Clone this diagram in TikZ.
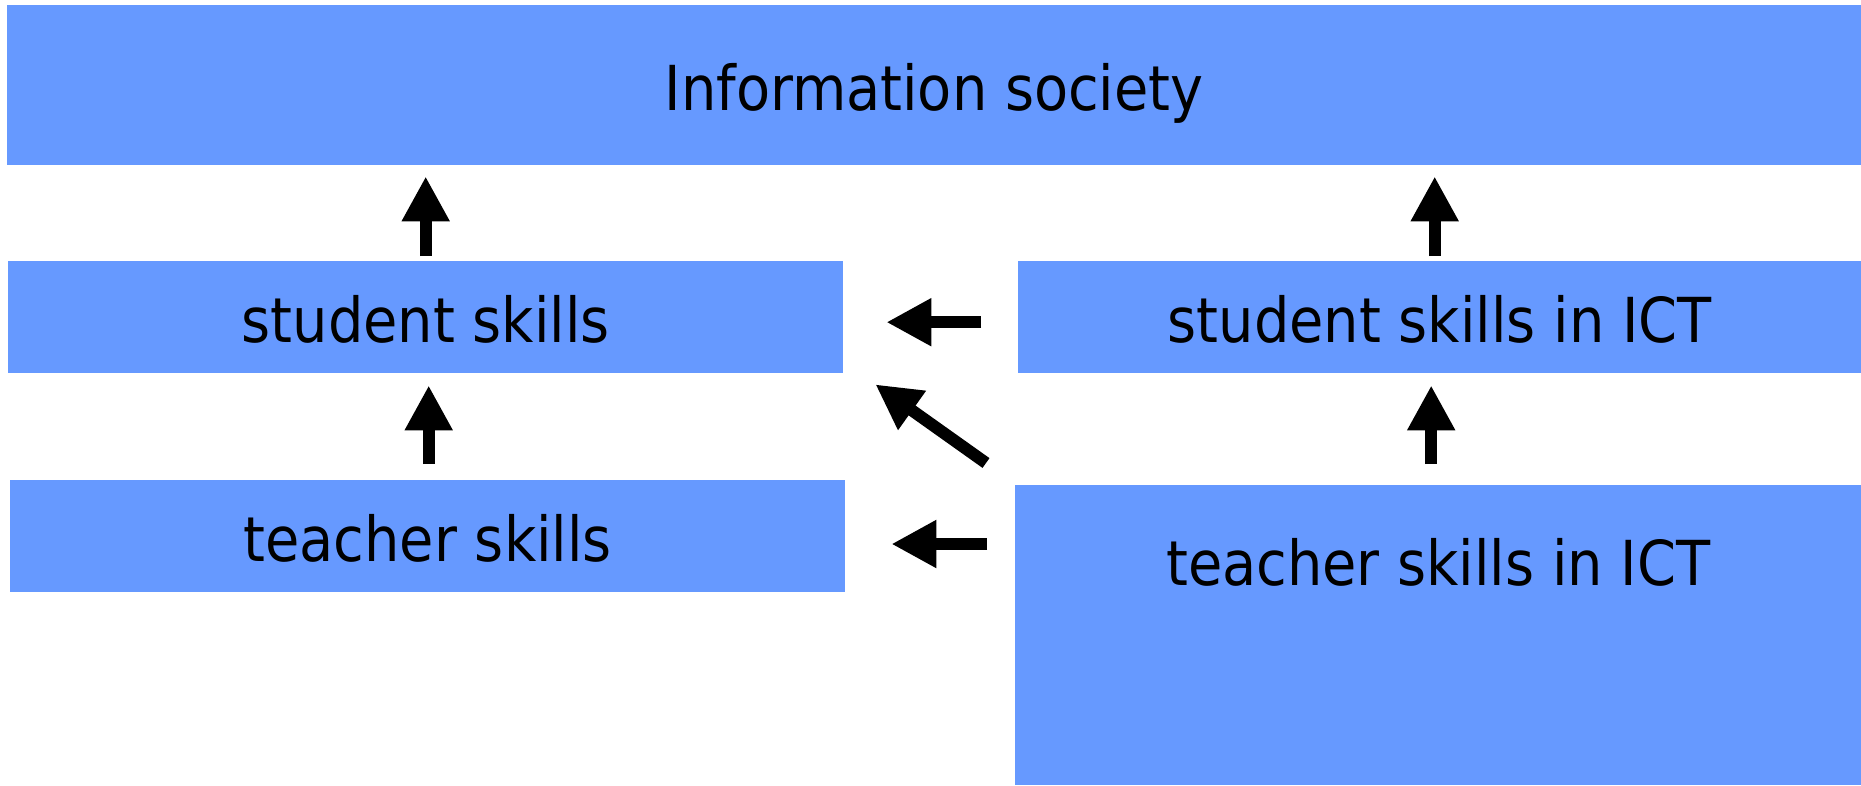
\documentclass[tikz,border=0pt]{standalone}
\usepackage{fontspec}
\setmainfont{DejaVu Sans Condensed}
\usetikzlibrary{arrows.meta}
\definecolor{boxblue}{HTML}{6699FF}
\begin{document}
\begin{tikzpicture}[x=1pt,y=-1pt,
  box/.style={rectangle, fill=boxblue, inner sep=0pt, anchor=north west,
    font=\fontsize{62}{74}\selectfont, text height=50pt, text depth=0pt},
  arr/.style={line width=12pt, -{Triangle[width=45pt,length=45pt]}}]
\useasboundingbox (0,0) rectangle (1861,785);
\node[box, minimum width=1854pt, minimum height=160pt] (info) at (7,5) {Information society};
\node[box, minimum width=835pt, minimum height=112pt] (ss) at (8,261) {student skills};
\node[box, minimum width=843pt, minimum height=112pt] (ssi) at (1018,261) {student skills in ICT};
\node[box, minimum width=835pt, minimum height=112pt] (ts) at (10,480) {teacher skills};
\node[box, minimum width=846pt, minimum height=300pt, text depth=150pt] (tsi) at (1015,485) {teacher skills in ICT};
% vertical arrows
\draw[arr, shorten <=5pt, shorten >=11pt] (ss.north) -- (ss.north |- info.south);
\draw[arr, shorten <=5pt, shorten >=11pt] ([xshift=-5pt]ssi.north) -- ([xshift=-5pt]ssi.north |- info.south);
\draw[arr, shorten <=16pt, shorten >=12pt] ([xshift=1pt]ts.north) -- ([xshift=1pt]ts.north |- ss.south);
\draw[arr, shorten <=21pt, shorten >=12pt] ([xshift=-7pt]tsi.north) -- ([xshift=-7pt]tsi.north |- ssi.south);
% horizontal and diagonal arrows
\coordinate (h1s) at ([xshift=-37pt,yshift=-5pt]ssi.west);
\coordinate (h1e) at ([xshift=43pt,yshift=-5pt]ss.east);
\draw[arr] (h1s) -- (h1e);
\coordinate (d1s) at ([xshift=-29pt,yshift=22pt]tsi.north west);
\coordinate (d1e) at ([xshift=32pt,yshift=-11pt]ss.south east);
\draw[arr] (d1s) -- (d1e);
\coordinate (h2s) at ([xshift=-28pt]tsi.north west |- 0,544);
\coordinate (h2e) at ([xshift=46pt]ts.east |- 0,544);
\draw[arr] (h2s) -- (h2e);
\end{tikzpicture}
\end{document}
